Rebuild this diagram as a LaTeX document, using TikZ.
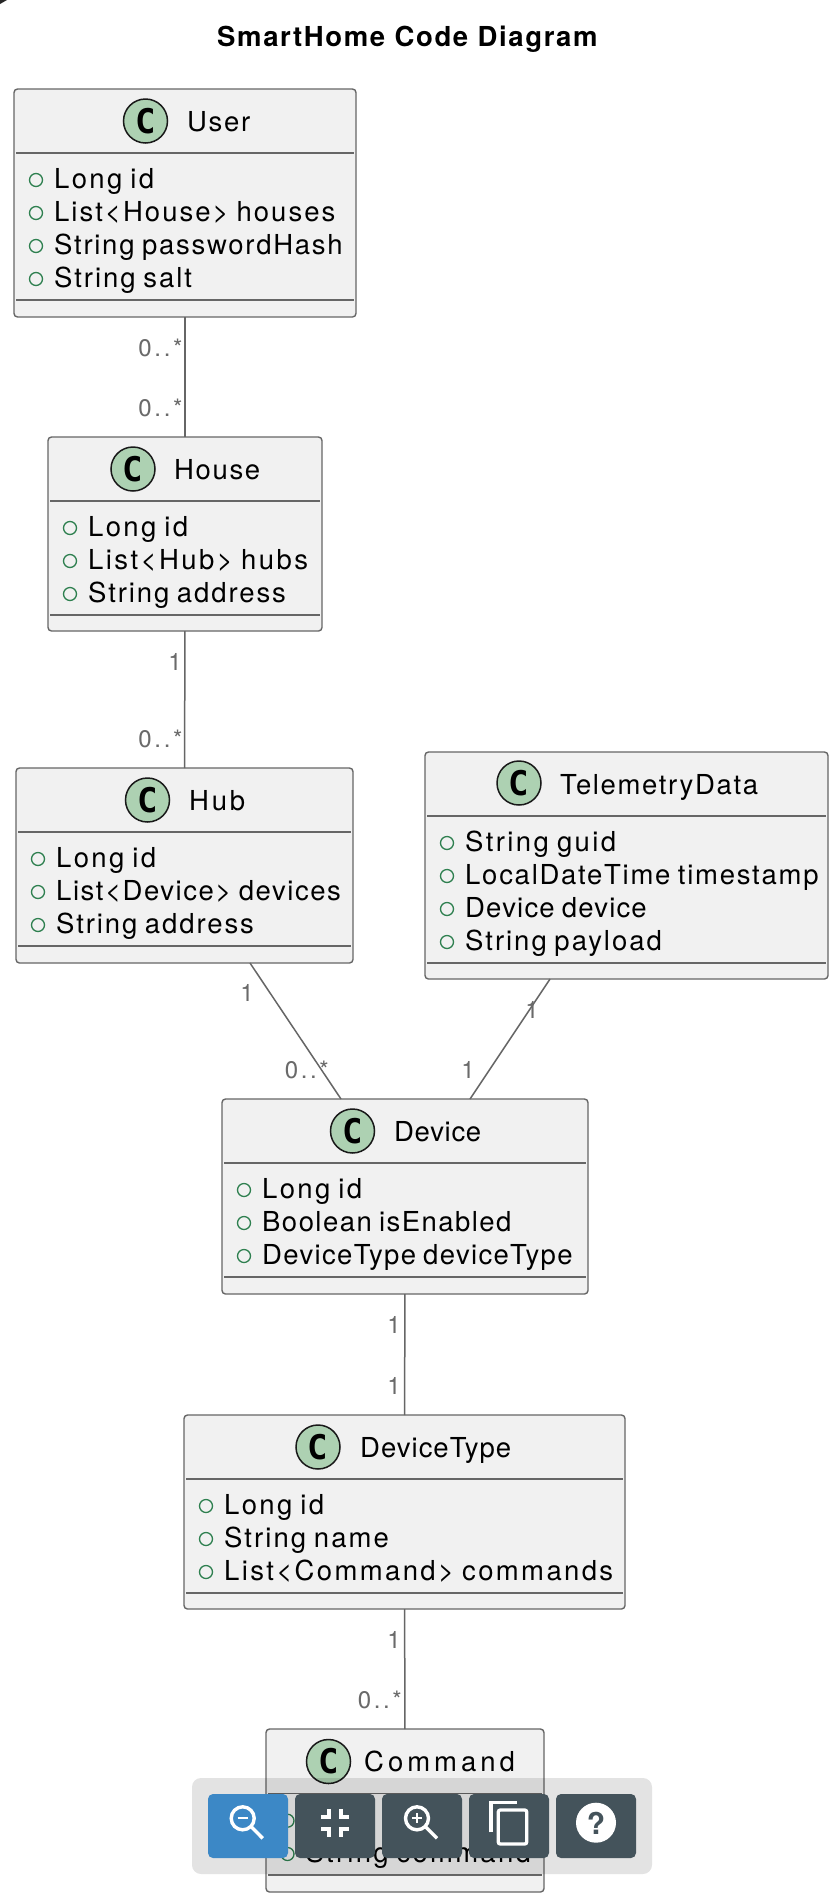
\documentclass[tikz,border=0pt]{standalone}
\usepackage{fontspec}
\setmainfont{TeX Gyre Heros}[LetterSpace=6,WordSpace=0.8]
\newfontfamily\titlefont{TeX Gyre Heros}[LetterSpace=6,WordSpace=1]
\newfontfamily\labelfont{TeX Gyre Heros}[LetterSpace=11]
\newfontfamily\markfont{DejaVu Sans Mono}
\definecolor{edgegray}{HTML}{666666}
\definecolor{boxfill}{HTML}{F1F1F1}
\definecolor{circlegreen}{HTML}{ADD1B2}
\definecolor{visgreen}{HTML}{2F8050}
\definecolor{labelgray}{HTML}{6A6A6A}
\definecolor{btnblue}{HTML}{3C88C6}
\definecolor{btndark}{HTML}{44535B}
\tikzset{
  classbox/.style={draw=edgegray,fill=boxfill,line width=1.4pt,rounded corners=3.5pt,inner sep=0pt,outer sep=0pt},
  sepline/.style={draw=edgegray,line width=1.3pt},
  assoc/.style={draw=edgegray,line width=1.5pt},
  classicon/.style={circle,draw=black!90,fill=circlegreen,line width=1.5pt,minimum size=44pt,inner sep=0pt,
     font=\fontsize{34}{34}\markfont\bfseries,text=black},
  classname/.style={anchor=base west,inner sep=0pt,font=\fontsize{27.5}{30}\selectfont,text=black},
  membertext/.style={anchor=base west,inner sep=0pt,font=\fontsize{27.5}{30}\selectfont,text=black},
  visicon/.style={circle,draw=visgreen,line width=1.3pt,minimum size=13pt,inner sep=0pt},
  multlabel/.style={anchor=base east,inner sep=0pt,font=\fontsize{24}{26}\labelfont,text=labelgray},
  btn/.style={rounded corners=5pt},
  iconline/.style={draw=white,line width=3.4pt},
}
\newcommand{\lsp}[1]{\addfontfeatures{LetterSpace=#1}}
% name, x1,y1,x2,y2, sep1, sep2
\newcommand{\classrect}[7]{%
  \path[classbox] (#2,#3) rectangle (#4,#5);
  \node[minimum width={#4pt-#2pt},minimum height={#5pt-#3pt},inner sep=0pt,outer sep=0pt] (#1) at ({(#2+#4)/2},{(#3+#5)/2}) {};
  \draw[sepline] (#2+2,#6) -- (#4-2,#6);
  \draw[sepline] (#2+2,#7) -- (#4-2,#7);
}
% spacing, name, circle cx, cy, title x, baseline, title
\newcommand{\classhead}[7]{%
  \node[classicon] (#2c) at (#3,#4) {C};
  \node[classname] (#2t) at (#5,#6) {\lsp{#1}#7};
}
% spacing, name, x, baseline, text
\newcommand{\member}[5]{%
  \node[visicon] (#2v) at (#3,#4-8) {};
  \node[membertext] (#2t) at (#3+18,#4) {\lsp{#1}#5};
}
\begin{document}
\begin{tikzpicture}[x=1pt,y=-1pt]
\useasboundingbox (0,0) rectangle (836,1904);
\fill[white] (0,0) rectangle (836,1904);
\fill[black!85] (0,0) -- (7,0) -- (0,4) -- cycle;
\node[anchor=base west,inner sep=0pt,font=\fontsize{27.5}{30}\titlefont\bfseries] (title) at (217,46) {SmartHome Code Diagram};

% User
\classrect{user}{14}{89}{356}{317}{153}{300}
\classhead{6}{user}{145.5}{121}{187}{131.5}{User}
\member{8.5}{ua}{36}{188}{Long id}
\member{7.4}{ub}{36}{221}{List<House> houses}
\member{6.3}{uc}{36}{254}{String passwordHash}
\member{7.1}{ud}{36}{287}{String salt}

% House
\classrect{house}{48}{437}{322}{631}{501}{615}
\classhead{6}{house}{133}{469}{174}{479.5}{House}
\member{8.5}{ha}{70}{536}{Long id}
\member{8.9}{hb}{70}{569}{List<Hub> hubs}
\member{6.9}{hc}{70}{602}{String address}

% Hub
\classrect{hub}{16}{768}{353}{963}{832}{946}
\classhead{10}{hub}{147.5}{800}{189}{810.5}{Hub}
\member{8.5}{pa}{38}{867}{Long id}
\member{5.6}{pb}{38}{900}{List<Device> devices}
\member{6.9}{pc}{38}{933}{String address}

% TelemetryData
\classrect{tele}{425}{752}{828}{979}{816}{963}
\classhead{6}{tele}{519}{783}{560}{794.5}{TelemetryData}
\member{8.8}{ta}{447}{851}{String guid}
\member{6.3}{tb}{447}{884}{LocalDateTime timestamp}
\member{4.3}{tc}{447}{917}{Device device}
\member{7.2}{td}{447}{950}{String payload}

% Device
\classrect{device}{222}{1099}{588}{1294}{1163}{1277}
\classhead{2.5}{device}{352.5}{1131}{394}{1141.5}{Device}
\member{8.5}{da}{244}{1198}{Long id}
\member{5.3}{db}{244}{1231}{Boolean isEnabled}
\member{4.8}{dc}{244}{1264}{DeviceType deviceType}

% DeviceType
\classrect{dtype}{184}{1415}{625}{1609}{1479}{1593}
\classhead{3.6}{dtype}{318}{1447}{360}{1457.5}{DeviceType}
\member{8.5}{ya}{206}{1514}{Long id}
\member{7.5}{yb}{206}{1547}{String name}
\member{8.6}{yc}{206}{1580}{List<Command> commands}

% Command
\classrect{command}{266}{1729}{544}{1892}{1793.5}{1875}
\classhead{14.5}{command}{328.5}{1761.5}{364}{1771.5}{Command}
\node[visicon] (ma) at (287.5,1820.7) {};
\member{8.2}{mb}{287.5}{1862}{String command}

% connectors
\coordinate (hubS) at (250,963);
\coordinate (devN) at (341,1099);
\coordinate (teleS) at (550,979);
\coordinate (devM) at (470,1099);
\draw[assoc] (user) -- (house);
\draw[assoc] (house) -- (hub);
\draw[assoc] (hubS) -- (devN);
\draw[assoc] (teleS) -- (devM);
\draw[assoc] (device) -- (dtype);
\draw[assoc] (dtype) -- (command);

% multiplicities
\node[multlabel] (l1) at (182.6,356) {0..*};
\node[multlabel] (l2) at (182.6,416) {0..*};
\node[multlabel] (l3) at (182,670) {1};
\node[multlabel] (l4) at (182.6,747) {0..*};
\node[multlabel] (l5) at (254,1001) {1};
\node[multlabel] (l6) at (329,1078) {0..*};
\node[multlabel] (l7) at (539,1018) {1};
\node[multlabel] (l8) at (475,1078) {1};
\node[multlabel] (l9) at (401,1333) {1};
\node[multlabel] (l10) at (401,1394) {1};
\node[multlabel] (l11) at (401,1648) {1};
\node[multlabel] (l12) at (402,1708) {0..*};

% viewer toolbar
\fill[black,opacity=0.11,rounded corners=9pt] (192,1778) rectangle (652,1874);
\fill[btnblue,btn] (208,1794) rectangle (288,1858);
\fill[btndark,btn] (295,1794) rectangle (375,1858);
\fill[btndark,btn] (382,1794) rectangle (462,1858);
\fill[btndark,btn] (469,1794) rectangle (549,1858);
\fill[btndark,btn] (556,1794) rectangle (636,1858);
% zoom out
\draw[iconline] (242.7,1818.3) circle (11.5pt);
\draw[white,line width=1.8pt] (237.7,1818.3) -- (247.7,1818.3);
\draw[iconline] (251,1826.5) -- (262.7,1838.3);
% fit
\draw[iconline,line width=3.8pt] (321,1816.7)--(328.6,1816.7)--(328.6,1809);
\draw[iconline,line width=3.8pt] (349,1816.7)--(341.2,1816.7)--(341.2,1809);
\draw[iconline,line width=3.8pt] (321,1828.7)--(328.6,1828.7)--(328.6,1836.7);
\draw[iconline,line width=3.8pt] (349,1828.7)--(341.2,1828.7)--(341.2,1836.7);
% zoom in
\draw[iconline] (417,1818.3) circle (11.5pt);
\draw[white,line width=1.8pt] (412,1818.3) -- (422,1818.3) (417,1813.3) -- (417,1823.3);
\draw[iconline] (425.3,1826.5) -- (437,1838.3);
% copy
\draw[white,line width=3.3pt] (491,1832.3) -- (491,1802.3) -- (517.3,1802.3);
\draw[white,line width=3.3pt,rounded corners=2pt] (498.3,1810) rectangle (526.7,1844);
% help
\fill[white] (596,1822.7) circle (20pt);
\node[inner sep=0pt,font=\fontsize{30}{30}\titlefont\bfseries,text=btndark] (help) at (596,1823) {?};
\end{tikzpicture}
\end{document}
